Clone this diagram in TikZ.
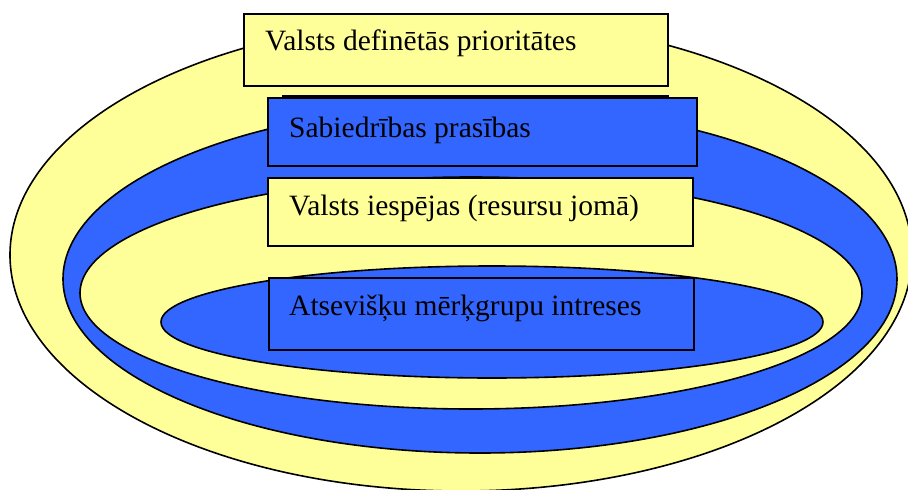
\documentclass[tikz,border=0pt]{standalone}
\usepackage{fontspec}
\setmainfont{Liberation Serif}
\usetikzlibrary{shapes.geometric}
\definecolor{paleyellow}{HTML}{FFFF99}
\definecolor{brightblue}{HTML}{3366FF}
\tikzset{
  ring/.style={ellipse, draw=black, line width=1.6pt, inner sep=0pt},
  panel/.style={rectangle, draw=black, line width=1.8pt, inner sep=0pt, anchor=north west},
  caption/.style={anchor=base west, inner sep=0pt, font=\fontsize{29.5}{34}\selectfont}
}
\begin{document}
\begin{tikzpicture}[x=1pt, y=-1pt]
\useasboundingbox (0,0) rectangle (908,490);
% nested ellipses, outermost first
\node[ring, fill=paleyellow, minimum width=902pt, minimum height=472pt] (outer) at (461,255) {};
\node[ring, fill=brightblue, minimum width=834pt, minimum height=348pt] (second) at (480,279) {};
\node[ring, fill=paleyellow, minimum width=782pt, minimum height=232pt] (third) at (471,293) {};
\node[ring, fill=brightblue, minimum width=662pt, minimum height=112pt] (inner) at (492,322) {};
% labelled panels
\node[panel, fill=paleyellow, minimum width=424.3pt, minimum height=72pt] (b1) at (242.7,12.7) {};
\node[panel, fill=brightblue, minimum width=385pt, minimum height=40pt] (backplate) at (282,95) {};
\node[panel, fill=brightblue, minimum width=429pt, minimum height=68pt] (b2) at (266.7,96.7) {};
\node[panel, fill=paleyellow, minimum width=425.3pt, minimum height=68.6pt] (b3) at (266.7,176.7) {};
\node[panel, fill=brightblue, minimum width=425pt, minimum height=72.3pt] (b4) at (267.7,276.7) {};
\node[caption] (t1) at (265,50) {Valsts definētās prioritātes};
\node[caption] (t2) at (289,137) {Sabiedrības prasības};
\node[caption] (t3) at (289,215) {Valsts iespējas (resursu jomā)};
\node[caption] (t4) at (289,315) {Atsevišķu mērķgrupu intreses};
\end{tikzpicture}
\end{document}
